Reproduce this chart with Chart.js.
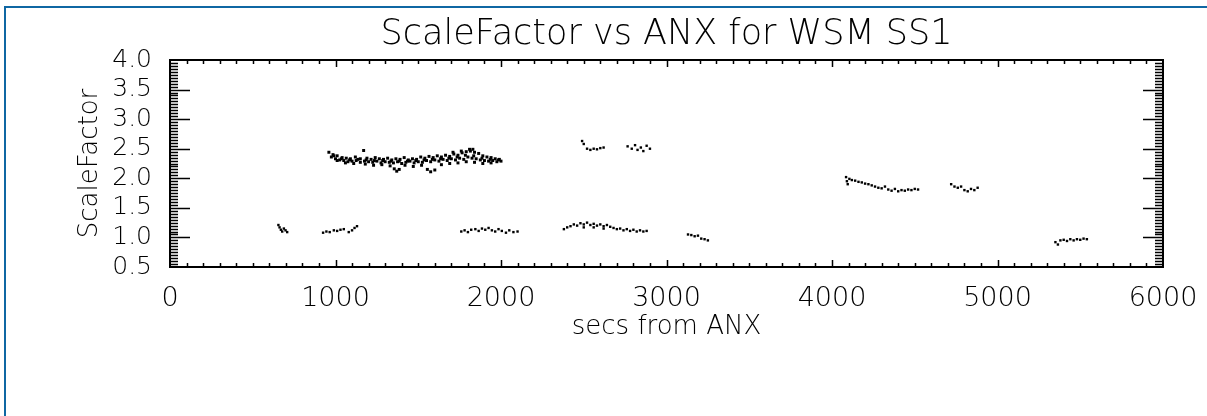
<!DOCTYPE html>
<html>
<head>
<meta charset="utf-8">
<script src="https://cdn.jsdelivr.net/npm/chart.js@4"></script>
<style>
  body { margin: 0; background: #fff; }
  #cadre { position: absolute; left: 4px; top: 6px; right: 0; bottom: 0; border-top: 2px solid #0f67a3; border-left: 2px solid #0f67a3; }
  #Chart { position: absolute; left: 0; top: 0; }
</style>
</head>
<body>
<div id="cadre"></div>
<canvas id="Chart" width="1207" height="416"></canvas>
<script>
'use strict';
//textes du graphique
const titre = 'ScaleFactor vs ANX for WSM SS1';
const titreX = 'secs from ANX';
const titreY = 'ScaleFactor';
//bornes et pas des axes
const xTicks = [0, 1000, 2000, 3000, 4000, 5000, 6000];
const yTicks = [0.5, 1.0, 1.5, 2.0, 2.5, 3.0, 3.5, 4.0];

//groupes de points [secs, scale factor]
const groupe600 = [[655,1.21],[662,1.17],[670,1.13],[678,1.10],[688,1.15],[698,1.12],[708,1.09]];
const groupe1000 = [[925,1.08],[945,1.10],[965,1.09],[990,1.12],[1010,1.11],[1030,1.13],[1050,1.14],[1080,1.09],[1100,1.12],[1115,1.16],[1130,1.19]];
const bandeHaut = [[960,2.44],[985,2.40],[1010,2.38],[1040,2.35],[1065,2.34],[1090,2.33],[1120,2.36],[1150,2.33],[1170,2.47],[1190,2.34],[1215,2.32],[1240,2.35],[1265,2.33],[1290,2.32],[1315,2.34],[1340,2.31],[1365,2.33],[1390,2.32],[1415,2.35],[1440,2.31],[1465,2.33],[1490,2.32],[1515,2.36],[1540,2.34],[1565,2.37],[1590,2.35],[1615,2.38],[1640,2.36],[1665,2.39],[1690,2.37],[1715,2.41],[1740,2.39],[1765,2.43],[1790,2.45],[1815,2.46],[1840,2.44],[1865,2.42],[1890,2.38],[1915,2.36],[1940,2.35],[1965,2.33],[1990,2.32]];
const bandeMilieu = [[975,2.36],[1000,2.33],[1025,2.31],[1050,2.30],[1075,2.28],[1100,2.29],[1125,2.30],[1150,2.27],[1175,2.29],[1200,2.28],[1225,2.27],[1250,2.29],[1275,2.26],[1300,2.28],[1325,2.27],[1350,2.26],[1375,2.28],[1400,2.25],[1425,2.27],[1450,2.29],[1475,2.26],[1500,2.28],[1525,2.27],[1550,2.30],[1575,2.28],[1600,2.31],[1625,2.29],[1650,2.32],[1675,2.30],[1700,2.33],[1725,2.31],[1750,2.34],[1775,2.32],[1800,2.36],[1825,2.34],[1850,2.33],[1875,2.31],[1900,2.30],[1925,2.29],[1950,2.30],[1975,2.28],[2000,2.29]];
const bandeInter = [[990,2.38],[1035,2.33],[1085,2.31],[1135,2.32],[1185,2.31],[1235,2.30],[1285,2.30],[1335,2.29],[1385,2.29],[1435,2.29],[1485,2.30],[1535,2.31],[1585,2.32],[1635,2.33],[1685,2.34],[1735,2.36],[1785,2.39],[1835,2.38],[1885,2.34],[1935,2.32],[1985,2.31],[1710,2.44],[1760,2.46],[1810,2.49],[1830,2.49]];
const bandeBas = [[1010,2.30],[1060,2.26],[1110,2.25],[1180,2.24],[1230,2.22],[1280,2.23],[1330,2.21],[1355,2.16],[1370,2.12],[1385,2.15],[1420,2.22],[1470,2.20],[1520,2.22],[1555,2.15],[1575,2.11],[1600,2.14],[1640,2.23],[1690,2.25],[1740,2.26],[1790,2.28],[1840,2.27],[1890,2.25],[1940,2.26]];
const groupe1900 = [[1760,1.10],[1780,1.12],[1800,1.09],[1820,1.13],[1845,1.14],[1865,1.11],[1885,1.15],[1905,1.13],[1925,1.16],[1945,1.12],[1965,1.10],[1985,1.14],[2005,1.11],[2030,1.08],[2050,1.12],[2075,1.09],[2100,1.10]];
const groupe2600 = [[2380,1.14],[2400,1.17],[2420,1.19],[2440,1.22],[2460,1.20],[2480,1.24],[2500,1.22],[2520,1.25],[2540,1.21],[2560,1.23],[2580,1.20],[2600,1.22],[2620,1.19],[2640,1.21],[2660,1.18],[2680,1.16],[2700,1.14],[2720,1.15],[2740,1.12],[2760,1.14],[2780,1.11],[2800,1.13],[2820,1.10],[2840,1.12],[2860,1.10],[2880,1.11],[2500,1.17],[2560,1.17],[2620,1.15]];
const groupe2550 = [[2490,2.63],[2500,2.58],[2520,2.50],[2540,2.48],[2560,2.50],[2580,2.49],[2600,2.51],[2620,2.52]];
const groupe2850 = [[2765,2.54],[2790,2.50],[2810,2.56],[2825,2.48],[2845,2.52],[2860,2.46],[2880,2.55],[2900,2.50]];
const groupe3200 = [[3130,1.05],[3150,1.04],[3170,1.02],[3190,1.03],[3210,0.98],[3230,0.97],[3250,0.95]];
const groupe4300 = [[4085,2.02],[4090,1.95],[4095,1.90],[4105,1.99],[4120,1.97],[4140,1.96],[4160,1.94],[4180,1.93],[4200,1.91],[4220,1.90],[4240,1.88],[4260,1.86],[4280,1.84],[4300,1.83],[4320,1.86],[4340,1.81],[4360,1.79],[4380,1.82],[4400,1.78],[4420,1.80],[4440,1.79],[4460,1.81],[4480,1.80],[4500,1.82],[4520,1.81]];
const groupe4800 = [[4720,1.90],[4740,1.86],[4760,1.84],[4780,1.86],[4800,1.80],[4820,1.78],[4840,1.82],[4860,1.80],[4880,1.84]];
const groupe5450 = [[5350,0.92],[5365,0.88],[5380,0.95],[5400,0.96],[5420,0.94],[5440,0.97],[5460,0.95],[5480,0.97],[5500,0.96],[5520,0.98],[5540,0.97]];

const groupes = [groupe600, groupe1000, bandeHaut, bandeMilieu, bandeInter, bandeBas, groupe1900, groupe2600, groupe2550, groupe2850, groupe3200, groupe4300, groupe4800, groupe5450];
const bandes = [bandeHaut, bandeMilieu, bandeInter, bandeBas];

//plugin pour le cadre et les graduations vers l'intérieur
const cadrePlugin = {
    id: 'cadre',
    afterDraw(chart) {
        const { ctx, chartArea: a, scales } = chart;
        ctx.save();
        ctx.strokeStyle = '#000';
        ctx.lineWidth = 2;
        ctx.strokeRect(a.left, a.top, a.right - a.left, a.bottom - a.top);
        ctx.lineWidth = 1.5;
        ctx.beginPath();
        //graduations x : 100 en 100, grandes tous les 1000
        for (let v = 100; v < 6000; v += 100) {
            const px = Math.round(scales.x.getPixelForValue(v)) + 0.5;
            const l = v % 1000 === 0 ? 7 : 4;
            ctx.moveTo(px, a.bottom); ctx.lineTo(px, a.bottom - l);
            ctx.moveTo(px, a.top); ctx.lineTo(px, a.top + l);
        }
        //graduations y : 0.05 en 0.05, grandes tous les 0.5
        for (let i = 1; i < 70; i++) {
            const v = 0.5 + i * 0.05;
            const py = Math.round(scales.y.getPixelForValue(v)) + 0.5;
            const l = i % 10 === 0 ? 20 : 8;
            ctx.moveTo(a.left, py); ctx.lineTo(a.left + l, py);
            ctx.moveTo(a.right, py); ctx.lineTo(a.right - l, py);
        }
        ctx.stroke();
        ctx.restore();
    }
};

//fonction pour créer le graphique
function creerChart() {
    const ctx = document.getElementById('Chart').getContext('2d');
    const datasets = groupes.map(g => {
        const r = bandes.includes(g) ? 2.1 : 1.7;
        return {
            data: g.map(p => ({ x: p[0], y: p[1] })),
            backgroundColor: '#000',
            borderWidth: 0,
            pointStyle: 'rect',
            pointRadius: r,
            pointHoverRadius: r
        };
    });
    const police = 'DejaVu Sans';
    new Chart(ctx, {
        type: 'scatter',
        data: { datasets: datasets },
        options: {
            responsive: false,
            animation: false,
            layout: { padding: { right: 44 } },
            plugins: {
                legend: { display: false },
                tooltip: { enabled: false },
                title: { display: true, fullSize: false, text: titre, color: '#000', font: { family: police, size: 35, weight: 200 }, padding: { top: 14, bottom: 4 } }
            },
            scales: {
                x: {
                    type: 'linear', min: xTicks[0], max: xTicks[xTicks.length - 1],
                    grid: { display: false }, border: { display: false },
                    afterBuildTicks: s => { s.ticks = xTicks.map(v => ({ value: v })); },
                    afterFit: s => { s.height = 149; },
                    ticks: { color: '#000', padding: 8, maxRotation: 0, autoSkip: false, font: { family: police, size: 27, weight: 200 }, callback: v => String(v) },
                    title: { display: true, text: titreX, color: '#000', font: { family: police, size: 26, weight: 200 }, padding: { top: 0, bottom: 73 } }
                },
                y: {
                    type: 'linear', min: yTicks[0], max: yTicks[yTicks.length - 1],
                    grid: { display: false }, border: { display: false },
                    afterBuildTicks: s => { s.ticks = yTicks.map(v => ({ value: v })); },
                    afterFit: s => { s.width = 170; },
                    ticks: { color: '#000', padding: 10, autoSkip: false, font: { family: police, size: 25, weight: 200 }, callback: v => Number(v).toFixed(1) },
                    title: { display: true, text: titreY, color: '#000', font: { family: police, size: 26, weight: 200 }, padding: { top: 75, bottom: 0 } }
                }
            }
        },
        plugins: [cadrePlugin]
    });
}

creerChart();
</script>
</body>
</html>
